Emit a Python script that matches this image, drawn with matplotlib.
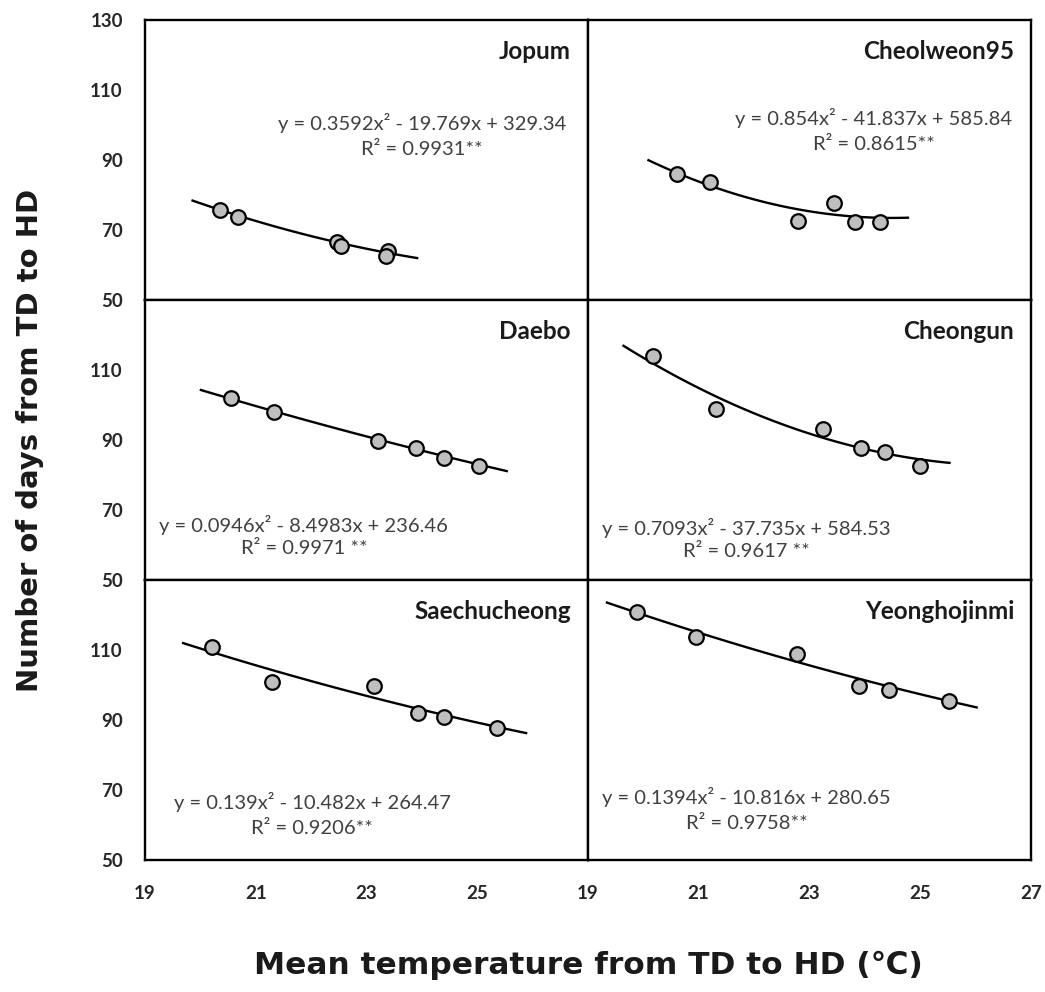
import matplotlib
matplotlib.use('Agg')
import matplotlib.pyplot as plt
import numpy as np

plt.rcParams['font.family'] = ['Lato', 'DejaVu Sans']

# cultivar names, panel order: row by row
names = ['Jopum', 'Cheolweon95', 'Daebo', 'Cheongun', 'Saechucheong', 'Yeonghojinmi']

temp_jopum = [20.36, 20.68, 22.47, 22.55, 23.39, 23.36]
days_jopum = [75.7, 73.6, 66.5, 65.4, 64.1, 62.6]

temp_cheolweon = [20.61, 21.21, 22.80, 23.44, 23.82, 24.27]
days_cheolweon = [86.0, 83.8, 72.7, 77.8, 72.4, 72.4]

temp_daebo = [20.55, 21.33, 23.21, 23.90, 24.40, 25.03]
days_daebo = [101.9, 97.9, 89.8, 87.8, 84.8, 82.7]

temp_cheongun = [20.19, 21.32, 23.25, 23.93, 24.36, 25.00]
days_cheongun = [114.0, 98.8, 93.1, 87.8, 86.7, 82.6]

temp_saechu = [20.22, 21.30, 23.14, 23.93, 24.40, 25.37]
days_saechu = [110.9, 100.9, 99.7, 91.9, 90.8, 87.8]

temp_yeongho = [19.90, 20.95, 22.78, 23.89, 24.43, 25.52]
days_yeongho = [120.9, 113.8, 108.8, 99.7, 98.6, 95.5]

temps = [temp_jopum, temp_cheolweon, temp_daebo, temp_cheongun, temp_saechu, temp_yeongho]
days = [days_jopum, days_cheolweon, days_daebo, days_cheongun, days_saechu, days_yeongho]

# quadratic trendline coefficients (a, b, c) as printed, and x range of the line
coefs = [(0.3592, -19.769, 329.34),
         (0.854, -41.837, 585.84),
         (0.0946, -8.4983, 236.46),
         (0.7093, -37.735, 584.53),
         (0.139, -10.482, 264.47),
         (0.1394, -10.816, 280.65)]
fit_range = [(19.86, 23.92), (20.10, 24.78), (20.01, 25.54),
             (19.65, 25.53), (19.69, 25.89), (19.35, 26.02)]

eq_text = ['y = 0.3592x\u00b2 - 19.769x + 329.34',
           'y = 0.854x\u00b2 - 41.837x + 585.84',
           'y = 0.0946x\u00b2 - 8.4983x + 236.46',
           'y = 0.7093x\u00b2 - 37.735x + 584.53',
           'y = 0.139x\u00b2 - 10.482x + 264.47',
           'y = 0.1394x\u00b2 - 10.816x + 280.65']
r2_text = ['R\u00b2 = 0.9931**', 'R\u00b2 = 0.8615**', 'R\u00b2 = 0.9971 **',
           'R\u00b2 = 0.9617 **', 'R\u00b2 = 0.9206**', 'R\u00b2 = 0.9758**']

# equation placement (axes fraction): x centre, y of eq line, y of R2 line
eq_pos = [(0.626, 0.631, 0.536), (0.645, 0.649, 0.554),
          (0.359, 0.196, 0.113), (0.359, 0.185, 0.101),
          (0.378, 0.208, 0.111), (0.359, 0.226, 0.131)]

yticks = [50, 70, 90, 110, 130]
xticks = [19, 21, 23, 25, 27]

fig = plt.figure(figsize=(10.45, 9.92), dpi=100)

lefts = [145 / 1045, 587.5 / 1045]
widths = [442.5 / 1045, 443.5 / 1045]
bottoms = [1 - 300 / 992, 1 - 580 / 992, 1 - 860 / 992]
h = 280 / 992

for i in range(6):
    row, col = i // 2, i % 2
    ax = fig.add_axes([lefts[col], bottoms[row], widths[col], h])
    ax.set_xlim(19, 27)
    ax.set_ylim(50, 130)

    a, b, c = coefs[i]
    xs = np.linspace(fit_range[i][0], fit_range[i][1], 100)
    ax.plot(xs, a * xs**2 + b * xs + c, color='black', lw=1.7, zorder=2)
    ax.plot(temps[i], days[i], 'o', ms=10.5, mfc='#bfbfbf', mec='black', mew=1.6, zorder=3)

    ax.text(0.962, 0.887, names[i], transform=ax.transAxes, ha='right', va='center',
            fontsize=17.5, fontweight='bold', color='#1a1a1a')
    ex, ey, ry = eq_pos[i]
    ax.text(ex, ey, eq_text[i], transform=ax.transAxes, ha='center', va='center',
            fontsize=14.5, color='#404040')
    ax.text(ex, ry, r2_text[i], transform=ax.transAxes, ha='center', va='center',
            fontsize=14.5, color='#404040')

    for s in ax.spines.values():
        s.set_linewidth(1.7)
        s.set_color('black')

    ax.set_yticks(yticks)
    ax.set_xticks(xticks)
    ax.tick_params(length=0, labelsize=13.5, colors='#262626')
    ax.tick_params(axis='y', pad=16)
    ax.tick_params(axis='x', pad=18)

    if col == 0:
        if row == 0:
            ax.set_yticklabels([str(t) for t in yticks], fontweight='bold')
        else:
            ax.set_yticklabels([str(t) for t in yticks[:-1]] + [''], fontweight='bold')
    else:
        ax.set_yticklabels([])

    if row == 2:
        if col == 0:
            ax.set_xticklabels([str(t) for t in xticks[:-1]] + [''], fontweight='bold')
        else:
            ax.set_xticklabels([str(t) for t in xticks], fontweight='bold')
    else:
        ax.set_xticklabels([])

fig.text(0.029, 1 - 440 / 992, 'Number of days from TD to HD', rotation=90,
         ha='center', va='center', fontsize=21, fontweight='bold', color='#1a1a1a',
         family=['DejaVu Sans'])
fig.text(588 / 1045, 1 - 965 / 992, 'Mean temperature from TD to HD (\u2103)',
         ha='center', va='center', fontsize=22.5, fontweight='bold', color='#1a1a1a',
         family=['DejaVu Sans'])

fig.savefig('out.png', dpi=100)
